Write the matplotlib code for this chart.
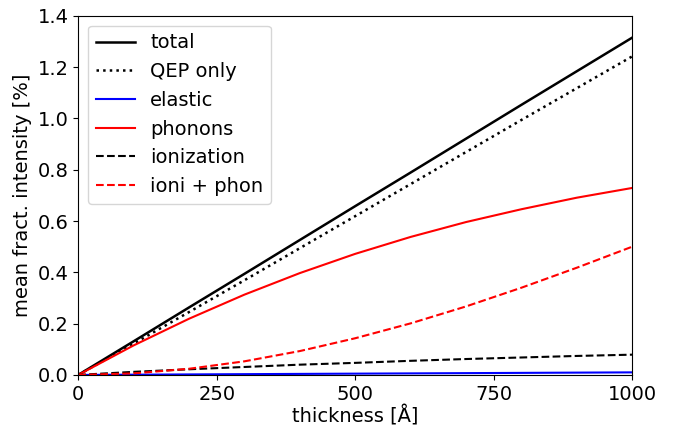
import matplotlib
matplotlib.use("Agg")
import matplotlib.pyplot as plt

# thickness grid [Angstrom]
thickness = [0, 100, 200, 300, 400, 500, 600, 700, 800, 900, 1000]

# mean fractional intensity [%] per scattering channel
total = [0.0, 0.131, 0.263, 0.394, 0.526, 0.658, 0.789, 0.921, 1.053, 1.184, 1.315]
qep_only = [0.0, 0.122, 0.245, 0.369, 0.494, 0.619, 0.744, 0.869, 0.994, 1.118, 1.242]
elastic = [0.0, 0.001, 0.002, 0.003, 0.004, 0.005, 0.006, 0.007, 0.008, 0.009, 0.010]
phonons = [0.0, 0.115, 0.219, 0.313, 0.397, 0.472, 0.538, 0.596, 0.646, 0.691, 0.729]
ionization = [0.0, 0.012, 0.022, 0.031, 0.040, 0.047, 0.055, 0.062, 0.068, 0.074, 0.079]
ioni_phon = [0.0, 0.006, 0.024, 0.053, 0.093, 0.143, 0.201, 0.267, 0.340, 0.418, 0.500]

plt.rcParams["font.size"] = 14

fig = plt.figure(figsize=(6.74, 4.28), dpi=100)
ax = fig.add_axes([0.116, 0.124, 0.822, 0.839])

ax.plot(thickness, total, color="black", lw=1.8, label="total")
ax.plot(thickness, qep_only, color="black", lw=1.8, ls=":", label="QEP only")
ax.plot(thickness, elastic, color="blue", lw=1.5, label="elastic")
ax.plot(thickness, phonons, color="red", lw=1.5, label="phonons")
ax.plot(thickness, ionization, color="black", lw=1.5, ls="--", label="ionization")
ax.plot(thickness, ioni_phon, color="red", lw=1.5, ls="--", label="ioni + phon")

ax.set_xlim(0, 1000)
ax.set_ylim(0, 1.4)
ax.set_xticks([0, 250, 500, 750, 1000])
ax.set_yticks([0.0, 0.2, 0.4, 0.6, 0.8, 1.0, 1.2, 1.4])
ax.set_xlabel("thickness [Å]", labelpad=1.5)
ax.set_ylabel("mean fract. intensity [%]")
ax.legend(loc="upper left")

fig.savefig("out.png", dpi=100)
